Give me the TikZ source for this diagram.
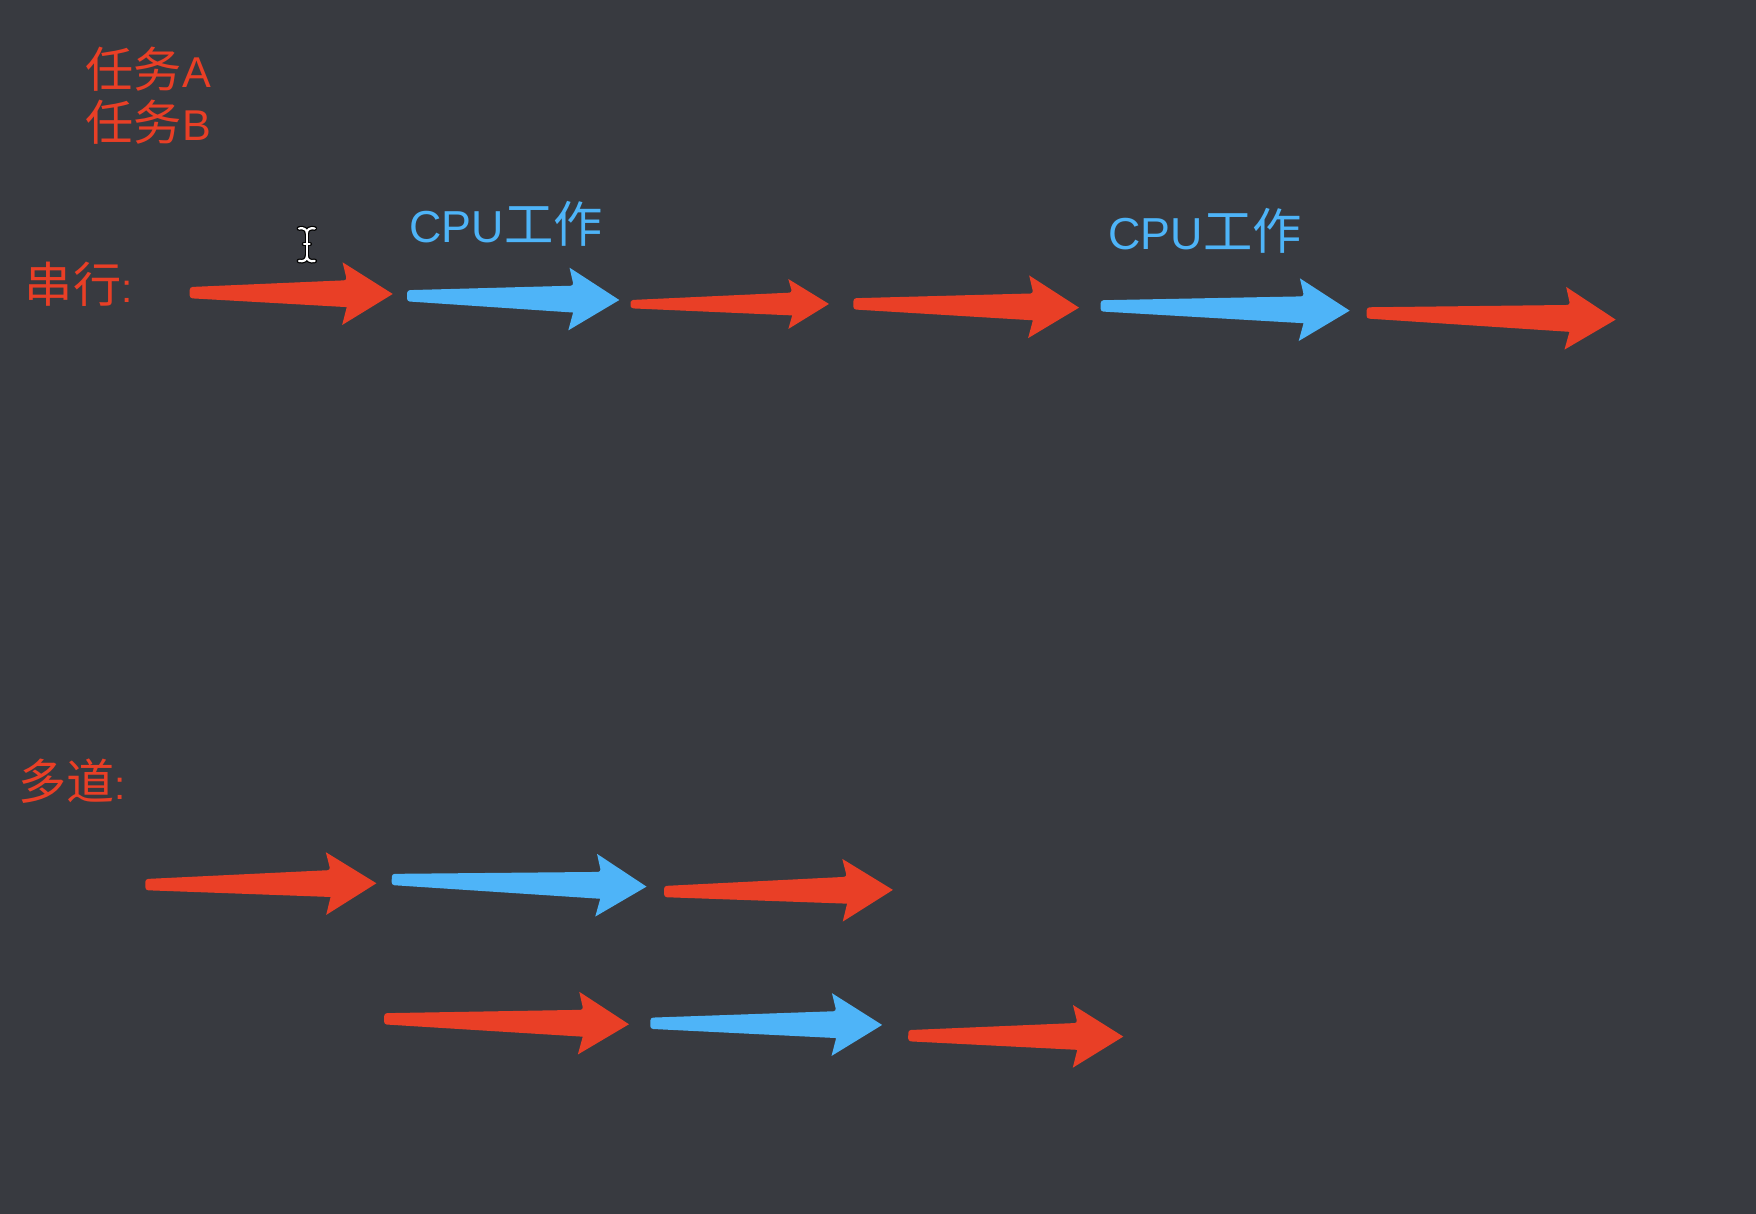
\documentclass[tikz,border=0pt]{standalone}
\usepackage{fontspec}
\setmainfont{Liberation Sans}
\newfontfamily\cjk{Noto Sans CJK SC}
\usetikzlibrary{calc}
\definecolor{bgc}{RGB}{56,58,64}
\definecolor{tred}{RGB}{233,63,38}
\definecolor{tblue}{RGB}{78,180,248}
\tikzset{
  lbl/.style={inner sep=0pt, anchor=base west, text=tred},
  cpulbl/.style={inner sep=0pt, anchor=base west, text=tblue},
}
% name, colour, tail, tip, tail half-width, shaft half-width at head, head half-width, barb back, join back
\newcommand\fatarrow[9]{%
  \coordinate (#1-t) at #3;
  \coordinate (#1-p) at #4;
  \coordinate (#1-b) at ($(#1-p)!#8!(#1-t)$);
  \coordinate (#1-j) at ($(#1-p)!#9!(#1-t)$);
  \fill[#2] (#1-t) [rounded corners=2.5pt] -- ($(#1-t)!#5!90:(#1-p)$)
    -- ($(#1-j)!#6!90:(#1-p)$) [sharp corners] -- ($(#1-b)!#7!90:(#1-p)$)
    -- (#1-p) -- ($(#1-b)!#7!-90:(#1-p)$) -- ($(#1-j)!#6!-90:(#1-p)$)
    [rounded corners=2.5pt] -- ($(#1-t)!#5!-90:(#1-p)$) -- cycle;}
\newcommand\stdarrow[4]{\fatarrow{#1}{#2}{#3}{#4}{5pt}{12pt}{28pt}{45pt}{41pt}}
\begin{document}
\begin{tikzpicture}[x=1pt,y=-1pt]
\fill[bgc] (0,0) rectangle (1568,1084);
\useasboundingbox (0,0) rectangle (1568,1084);
% labels
\node[lbl] (ta) at (76,78.3) {\fontsize{43}{43}\cjk 任务\hspace{1pt}\fontsize{38.5}{38.5}\selectfont\rmfamily A};
\node[lbl] (tb) at (76,125.9) {\fontsize{43}{43}\cjk 任务\hspace{1pt}\fontsize{38.5}{38.5}\selectfont\rmfamily B};
\node[lbl] (serial) at (22,270) {\fontsize{43}{43}\cjk 串行\fontsize{36}{36}\selectfont\rmfamily :};
\node[lbl] (multi) at (16,714.3) {\fontsize{43}{43}\cjk 多道\fontsize{36}{36}\selectfont\rmfamily :};
\node[cpulbl] (cpu1) at (365.5,216.8) {\fontsize{40}{40}\selectfont CPU\fontsize{44}{44}\cjk 工作};
\node[cpulbl] (cpu2) at (989.7,222.7) {\fontsize{40}{40}\selectfont CPU\fontsize{44}{44}\cjk 工作};
% cursor (I-beam)
\begin{scope}[line cap=round]
\foreach \w/\c in {4.2/black,2/white}{
  \draw[\c, line width=\w pt] (267,204) .. controls (271,203) and (274,205) .. (274,208)
     .. controls (274,205) and (277,203) .. (281,204);
  \draw[\c, line width=\w pt] (274,208) -- (274,229);
  \draw[\c, line width=\w pt] (267,233) .. controls (271,234) and (274,232) .. (274,229)
     .. controls (274,232) and (277,234) .. (281,233);
  \draw[\c, line width=\w pt] (271.5,218) -- (276.5,218);
}
\end{scope}
% serial row
\stdarrow{s1}{tred}{(169.4,261.3)}{(350.7,262.5)}
\stdarrow{s2}{tblue}{(363.5,264.1)}{(553,267.9)}
\fatarrow{s3}{tred}{(563.1,271.6)}{(740.2,271.4)}{3.7pt}{10.2pt}{22.3pt}{36.3pt}{32.8pt}
\stdarrow{s4}{tred}{(762,271.3)}{(963.5,274.7)}
\stdarrow{s5}{tblue}{(982.8,273.1)}{(1205.2,277.4)}
\stdarrow{s6}{tred}{(1220.3,279.4)}{(1442.7,285.4)}
% multiprogramming rows
\stdarrow{m1}{tred}{(129.8,789.9)}{(336.1,788.7)}
\stdarrow{m2}{tblue}{(349.8,785.3)}{(577.3,791.7)}
\stdarrow{m3}{tred}{(593,796.1)}{(797.3,794.6)}
\stdarrow{n1}{tred}{(343,909.7)}{(561.6,914.6)}
\stdarrow{n2}{tblue}{(580.7,913.7)}{(787.7,915.2)}
\stdarrow{n3}{tred}{(811,924.8)}{(1003,925.6)}
\end{tikzpicture}
\end{document}
